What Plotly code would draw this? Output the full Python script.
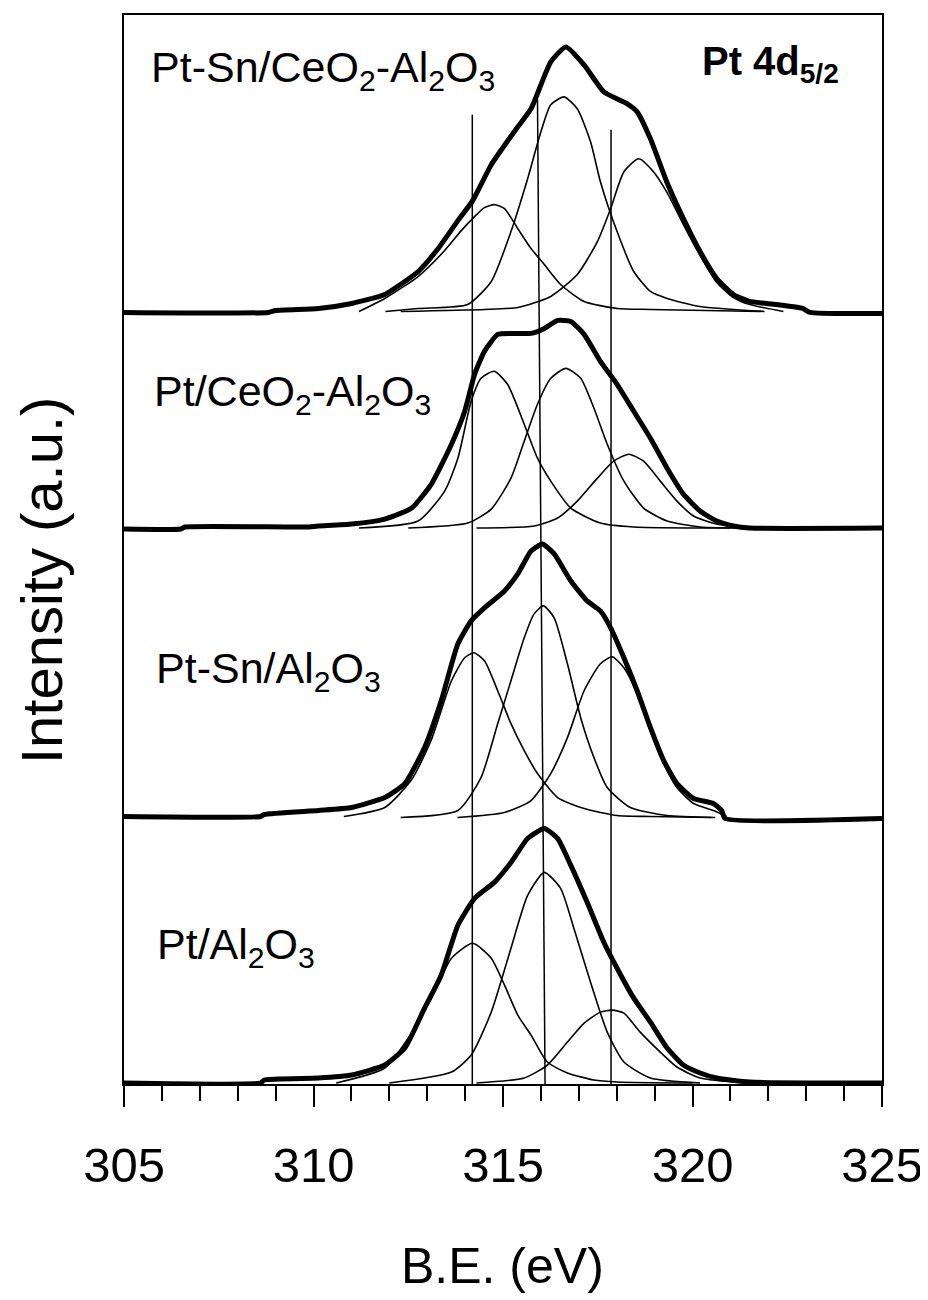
import plotly.graph_objects as go

# ---- data (B.E. in eV, intensity in a.u. above each panel baseline)
PANEL_LABELS = ["Pt-Sn/CeO<sub>2</sub>-Al<sub>2</sub>O<sub>3</sub>",
                "Pt/CeO<sub>2</sub>-Al<sub>2</sub>O<sub>3</sub>",
                "Pt-Sn/Al<sub>2</sub>O<sub>3</sub>",
                "Pt/Al<sub>2</sub>O<sub>3</sub>"]
PANEL_OFFSET = [773, 557, 267, 1]

# Pt-Sn/CeO2-Al2O3
P1_ENV_EV = [305, 308.8, 309.0, 310.13, 311.01, 311.88, 312.76, 313.29, 313.81, 314.20,
             314.69, 315.39, 315.74, 316.26, 316.66, 317.14, 317.66, 318.28, 318.54,
             318.89, 319.33, 319.76, 320.20, 320.64, 321.08, 321.51, 321.95, 322.91,
             323.1, 325]
P1_ENV_I = [0, 0, 2, 4, 9, 18, 41, 64, 92, 112, 148, 186, 204, 251, 266, 248, 221, 209,
            201, 174, 130, 94, 61, 34, 18, 11, 9, 4, 0, -1]
P1_C1_EV = [311.2, 311.88, 312.76, 313.46, 313.90, 314.25, 314.51, 314.77, 315.04,
            315.39, 315.74, 316.09, 316.52, 317.14, 318.01, 318.89, 321.8]
P1_C1_I = [1, 14, 36, 62, 82, 96, 105, 108, 104, 84, 64, 48, 28, 11, 4, 3, 1]
P1_C2_EV = [311.9, 312.76, 314.07, 314.69, 315.21, 315.65, 316.00, 316.26, 316.61,
            316.96, 317.31, 317.57, 318.01, 318.45, 318.89, 319.33, 320.20, 321.9]
P1_C2_I = [1, 4, 8, 31, 81, 134, 181, 208, 216, 204, 171, 131, 81, 41, 21, 14, 6, 1]
P1_C3_EV = [312.3, 314.51, 315.39, 316.26, 316.96, 317.49, 317.84, 318.19, 318.58,
            318.97, 319.33, 319.76, 320.20, 320.64, 321.08, 321.51, 322.4]
P1_C3_I = [1, 3, 5, 16, 38, 71, 104, 141, 154, 141, 120, 88, 57, 30, 15, 8, 1]

# Pt/CeO2-Al2O3
P2_ENV_EV = [305, 306.5, 306.6, 309.8, 310.13, 311.01, 311.88, 312.59, 313.11, 313.64,
             313.99, 314.25, 314.51, 314.86, 315.21, 315.74, 316.09, 316.44, 316.79,
             317.14, 317.57, 318.01, 318.45, 318.89, 319.33, 319.76, 320.20, 320.64,
             321.08, 321.51, 325]
P2_ENV_I = [-1, -1, 1, 1, 2, 4, 9, 20, 44, 84, 117, 154, 177, 194, 195, 195, 200, 208,
            207, 194, 167, 144, 117, 90, 60, 34, 17, 7, 2, 0, 0]
P2_C1_EV = [311.2, 312.76, 313.46, 313.81, 314.16, 314.42, 314.77, 315.12, 315.56,
            315.91, 316.26, 316.79, 317.57, 318.45, 321.0]
P2_C1_I = [0, 7, 37, 70, 127, 150, 157, 144, 104, 70, 47, 20, 5, 1, 0]
P2_C2_EV = [312.5, 314.07, 314.69, 315.21, 315.56, 315.91, 316.26, 316.66, 317.05,
            317.40, 317.75, 318.19, 318.71, 319.33, 320.20, 321.5]
P2_C2_I = [0, 5, 19, 50, 87, 124, 150, 160, 150, 120, 84, 47, 20, 7, 1, 0]
P2_C3_EV = [314.3, 315.82, 316.44, 316.96, 317.49, 317.92, 318.32, 318.71, 319.15,
            319.59, 320.03, 320.64, 321.6]
P2_C3_I = [0, 2, 10, 27, 50, 67, 74, 67, 47, 27, 12, 4, 0]

# Pt-Sn/Al2O3
P3_ENV_EV = [305, 308.6, 308.7, 310.13, 311.01, 311.88, 312.41, 312.93, 313.37, 313.81,
             314.16, 314.51, 315.04, 315.39, 315.74, 316.04, 316.35, 316.79, 317.22,
             317.57, 317.84, 318.19, 318.54, 318.89, 319.24, 319.59, 320.03, 320.55,
             320.77, 320.86, 325]
P3_ENV_I = [1, 1, 3, 7, 10, 20, 34, 70, 117, 174, 197, 210, 227, 244, 267, 274, 264,
            237, 217, 207, 190, 160, 127, 90, 57, 34, 19, 14, 7, -1, -1]
P3_C1_EV = [310.8, 311.88, 312.59, 313.11, 313.64, 313.99, 314.23, 314.51, 314.86,
            315.21, 315.56, 315.91, 316.44, 317.14, 318.01, 318.89, 320.5]
P3_C1_I = [1, 10, 38, 78, 137, 160, 165, 157, 127, 94, 67, 44, 20, 9, 2, 1, 0]
P3_C2_EV = [312.3, 313.81, 314.42, 314.86, 315.21, 315.56, 315.82, 316.07, 316.35,
            316.70, 317.05, 317.40, 317.75, 318.36, 319.33, 320.6]
P3_C2_I = [0, 7, 40, 94, 137, 180, 204, 212, 200, 154, 100, 60, 30, 10, 2, 0]
P3_C3_EV = [313.8, 315.04, 315.74, 316.26, 316.70, 317.14, 317.57, 317.88, 318.19,
            318.54, 318.89, 319.24, 319.59, 320.03, 320.55, 320.90]
P3_C3_I = [0, 5, 17, 44, 80, 127, 154, 161, 150, 124, 87, 54, 30, 14, 7, 1]

# Pt/Al2O3
P4_ENV_EV = [305, 308.6, 308.7, 310.13, 311.01, 311.88, 312.41, 312.93, 313.37, 313.81,
             314.25, 314.77, 315.21, 315.65, 316.09, 316.44, 316.79, 317.22, 317.66,
             318.01, 318.45, 318.89, 319.33, 319.76, 320.20, 320.64, 321.51, 325]
P4_ENV_I = [0, 0, 3, 5, 8, 18, 35, 75, 108, 158, 185, 201, 221, 245, 255, 245, 218,
            181, 141, 115, 85, 61, 35, 18, 10, 5, 1, 0]
P4_C1_EV = [310.6, 311.88, 312.59, 313.11, 313.64, 314.20, 314.69, 315.04, 315.39,
            315.74, 316.17, 316.70, 317.40, 318.01, 320.0]
P4_C1_I = [0, 15, 50, 85, 125, 140, 125, 98, 68, 48, 21, 10, 3, 1, 0]
P4_C2_EV = [312.0, 313.64, 314.16, 314.69, 315.21, 315.65, 316.09, 316.52, 316.87,
            317.31, 317.75, 318.19, 318.89, 320.2]
P4_C2_I = [0, 11, 28, 71, 135, 188, 211, 195, 155, 101, 51, 21, 5, 0]
P4_C3_EV = [314.3, 315.56, 316.17, 316.70, 317.14, 317.57, 317.88, 318.19, 318.62,
            319.15, 319.59, 320.20, 321.4]
P4_C3_I = [0, 5, 18, 41, 60, 71, 73, 70, 51, 31, 16, 5, 0]

# peak-position reference lines: B.E. at bottom / top, and top height
REF_EV_BOTTOM = [314.19, 316.11, 317.85]
REF_EV_TOP = [314.19, 315.91, 317.85]
REF_TOP_I = [971, 986, 956]

PANELS = [
    (P1_ENV_EV, P1_ENV_I, [(P1_C1_EV, P1_C1_I), (P1_C2_EV, P1_C2_I), (P1_C3_EV, P1_C3_I)]),
    (P2_ENV_EV, P2_ENV_I, [(P2_C1_EV, P2_C1_I), (P2_C2_EV, P2_C2_I), (P2_C3_EV, P2_C3_I)]),
    (P3_ENV_EV, P3_ENV_I, [(P3_C1_EV, P3_C1_I), (P3_C2_EV, P3_C2_I), (P3_C3_EV, P3_C3_I)]),
    (P4_ENV_EV, P4_ENV_I, [(P4_C1_EV, P4_C1_I), (P4_C2_EV, P4_C2_I), (P4_C3_EV, P4_C3_I)]),
]

FONT = "Arial, Liberation Sans, Helvetica, sans-serif"

fig = go.Figure()

for k in range(3):
    fig.add_trace(go.Scatter(
        x=[REF_EV_BOTTOM[k], REF_EV_TOP[k]], y=[0, REF_TOP_I[k]], mode="lines",
        line=dict(color="black", width=1.5), hoverinfo="skip"))

for (env_x, env_y, comps), off in zip(PANELS, PANEL_OFFSET):
    for cx, cy in comps:
        fig.add_trace(go.Scatter(
            x=cx, y=[v + off for v in cy], mode="lines",
            line=dict(color="black", width=1.6, shape="spline", smoothing=0.6),
            hoverinfo="skip"))
    fig.add_trace(go.Scatter(
        x=env_x, y=[v + off for v in env_y], mode="lines",
        line=dict(color="black", width=5, shape="spline", smoothing=0.5),
        hoverinfo="skip"))

label_pos = [(305.65, 1016), (305.75, 691), (305.8, 414), (305.83, 137)]
for text, (lx, ly) in zip(PANEL_LABELS, label_pos):
    fig.add_annotation(x=lx, y=ly, text=text, showarrow=False, xanchor="left",
                       yanchor="middle", font=dict(family=FONT, size=43, color="black"))

fig.add_annotation(x=320.19, y=1022, text="<b>Pt 4d<sub>5/2</sub></b>", showarrow=False,
                   xanchor="left", yanchor="middle",
                   font=dict(family=FONT, size=40, color="black"))

fig.add_annotation(xref="paper", yref="paper", x=-0.108, y=0.4706,
                   xanchor="center", yanchor="middle",
                   text="Intensity (a.u.)", textangle=-90, showarrow=False,
                   font=dict(family=FONT, size=58, color="black"))
fig.add_annotation(xref="paper", yref="paper", x=0.4987, y=-0.170,
                   xanchor="center", yanchor="middle",
                   text="B.E. (eV)", showarrow=False,
                   font=dict(family=FONT, size=50, color="black"))

# page body adds an 8px margin, so the figure is 8px smaller on each side
fig.update_layout(
    width=920, height=1292,
    margin=dict(l=116, r=42, t=5, b=216),
    paper_bgcolor="white", plot_bgcolor="white",
    showlegend=False,
    font=dict(family=FONT, color="black"),
)
fig.update_xaxes(
    range=[305, 325], showgrid=False, zeroline=False,
    showline=True, linecolor="black", linewidth=2, mirror=True,
    ticks="outside", tickvals=[305, 310, 315, 320, 325], ticklen=21, tickwidth=2,
    tickcolor="black", tickfont=dict(family=FONT, size=49, color="black"),
    ticklabelstandoff=16,
    minor=dict(dtick=1, ticks="outside", ticklen=15, tickwidth=2, tickcolor="black"),
)
fig.update_yaxes(
    range=[0, 1071], showgrid=False, zeroline=False, showticklabels=False,
    showline=True, linecolor="black", linewidth=2, mirror=True, ticks="",
)

fig.write_html("out.html")
